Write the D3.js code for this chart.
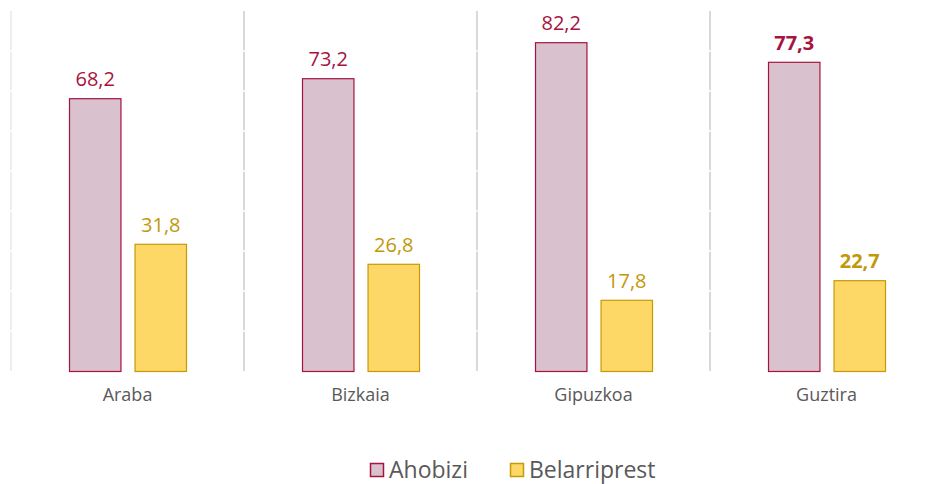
<!DOCTYPE html>
<html>
<head>
<meta charset="utf-8">
<script src="https://cdn.jsdelivr.net/npm/d3@7"></script>
<style>
  body { margin: 0; background: #fff; }
  svg { display: block; font-family: "Century Gothic", "Open Sans", sans-serif; }
</style>
</head>
<body>
<div id="chart"></div>
<script>
(function () {

  // data
  var categories = ["Araba", "Bizkaia", "Gipuzkoa", "Guztira"]
  var seriesNames = ["Ahobizi", "Belarriprest"]
  var ahobizi = [68.2, 73.2, 82.2, 77.3]
  var belarriprest = [31.8, 26.8, 17.8, 22.7]
  var yTicks = [0, 10, 20, 30, 40, 50, 60, 70, 80, 90]

  var fills = ["#d9c1cd", "#fdd866"]
  var strokes = ["#a6133f", "#c59a06"]
  var labelColors = ["#a6133f", "#c2980b"]

  var width = 933, height = 484
  var fontFamily = "\"Century Gothic\", \"Open Sans\", sans-serif"

  var svg = d3.select("#chart").append("svg")
    .attr("width", width)
    .attr("height", height)

  var xPositionScale = d3.scaleBand()
    .domain(categories)
    .range([11, 943])
    .paddingInner(0)

  // two bars inside each category band
  var xSeries = d3.scaleBand()
    .domain(seriesNames)
    .range([58, 175])
    .paddingInner(0.215)
    .paddingOuter(0)

  var yPositionScale = d3.scaleLinear()
    .domain([0, 90])
    .range([371, 11])

  // vertical separators
  svg.selectAll(".sep")
    .data(categories)
    .enter().append("line")
    .attr("class", "sep")
    .attr("x1", function (d) { return xPositionScale(d) })
    .attr("x2", function (d) { return xPositionScale(d) })
    .attr("y1", yPositionScale(90))
    .attr("y2", yPositionScale(0))
    .attr("stroke", function (d, i) { return i === 0 ? "#eeeeee" : "#d9d9d9" })
    .attr("stroke-width", 2)

  // white gridlines make the small breaks
  svg.selectAll(".grid")
    .data(yTicks.slice(1, -1))
    .enter().append("line")
    .attr("class", "grid")
    .attr("x1", 0)
    .attr("x2", width)
    .attr("y1", function (d) { return yPositionScale(d) })
    .attr("y2", function (d) { return yPositionScale(d) })
    .attr("stroke", "#fff")
    .attr("stroke-width", 1.5)

  var rows = categories.map(function (c, i) {
    return { cat: c, values: [ahobizi[i], belarriprest[i]] }
  })

  var groups = svg.selectAll(".group")
    .data(rows)
    .enter().append("g")
    .attr("class", "group")
    .attr("transform", function (d) { return "translate(" + xPositionScale(d.cat) + ",0)" })

  groups.selectAll("rect")
    .data(function (d) { return d.values.map(function (v, j) { return { v: v, j: j } }) })
    .enter().append("rect")
    .attr("x", function (d) { return xSeries(seriesNames[d.j]) + 0.5 })
    .attr("y", function (d) { return yPositionScale(d.v) + 0.5 })
    .attr("width", xSeries.bandwidth())
    .attr("height", function (d) { return yPositionScale(0) - yPositionScale(d.v) })
    .attr("fill", function (d) { return fills[d.j] })
    .attr("stroke", function (d) { return strokes[d.j] })
    .attr("stroke-width", 1.2)

  groups.each(function (row, i) {
    d3.select(this).selectAll("text.val")
      .data(row.values.map(function (v, j) { return { v: v, j: j } }))
      .enter().append("text")
      .attr("class", "val")
      .attr("x", function (d) { return xSeries(seriesNames[d.j]) + xSeries.bandwidth() / 2 + 0.5 })
      .attr("y", function (d) { return yPositionScale(d.v) - 12 })
      .attr("text-anchor", "middle")
      .attr("font-size", "20px")
      .attr("font-weight", i === categories.length - 1 ? "bold" : "normal")
      .attr("fill", function (d) { return labelColors[d.j] })
      .text(function (d) { return d3.format(".1f")(d.v).replace(".", ",") })
  })

  // category axis
  var xAxis = d3.axisBottom(xPositionScale).tickSize(0).tickPadding(0)
  var gx = svg.append("g")
    .attr("class", "axis x-axis")
    .attr("transform", "translate(0,388)")
    .call(xAxis)
  gx.select(".domain").remove()
  gx.selectAll("text")
    .attr("font-family", fontFamily)
    .attr("font-size", "18px")
    .attr("fill", "#595959")
    .attr("dy", "0.71em")

  // legend
  var legendX = [370, 510]
  var legend = svg.selectAll(".legend")
    .data(seriesNames)
    .enter().append("g")
    .attr("class", "legend")
    .attr("transform", function (d, i) { return "translate(" + legendX[i] + ",463)" })

  legend.append("rect")
    .attr("x", 0.5).attr("y", 0.5)
    .attr("width", 13).attr("height", 13)
    .attr("fill", function (d, i) { return fills[i] })
    .attr("stroke", function (d, i) { return strokes[i] })
    .attr("stroke-width", 1.5)

  legend.append("text")
    .attr("x", 19)
    .attr("y", 15)
    .attr("font-size", "23px")
    .attr("fill", "#595959")
    .text(function (d) { return d })

})()
</script>
</body>
</html>
